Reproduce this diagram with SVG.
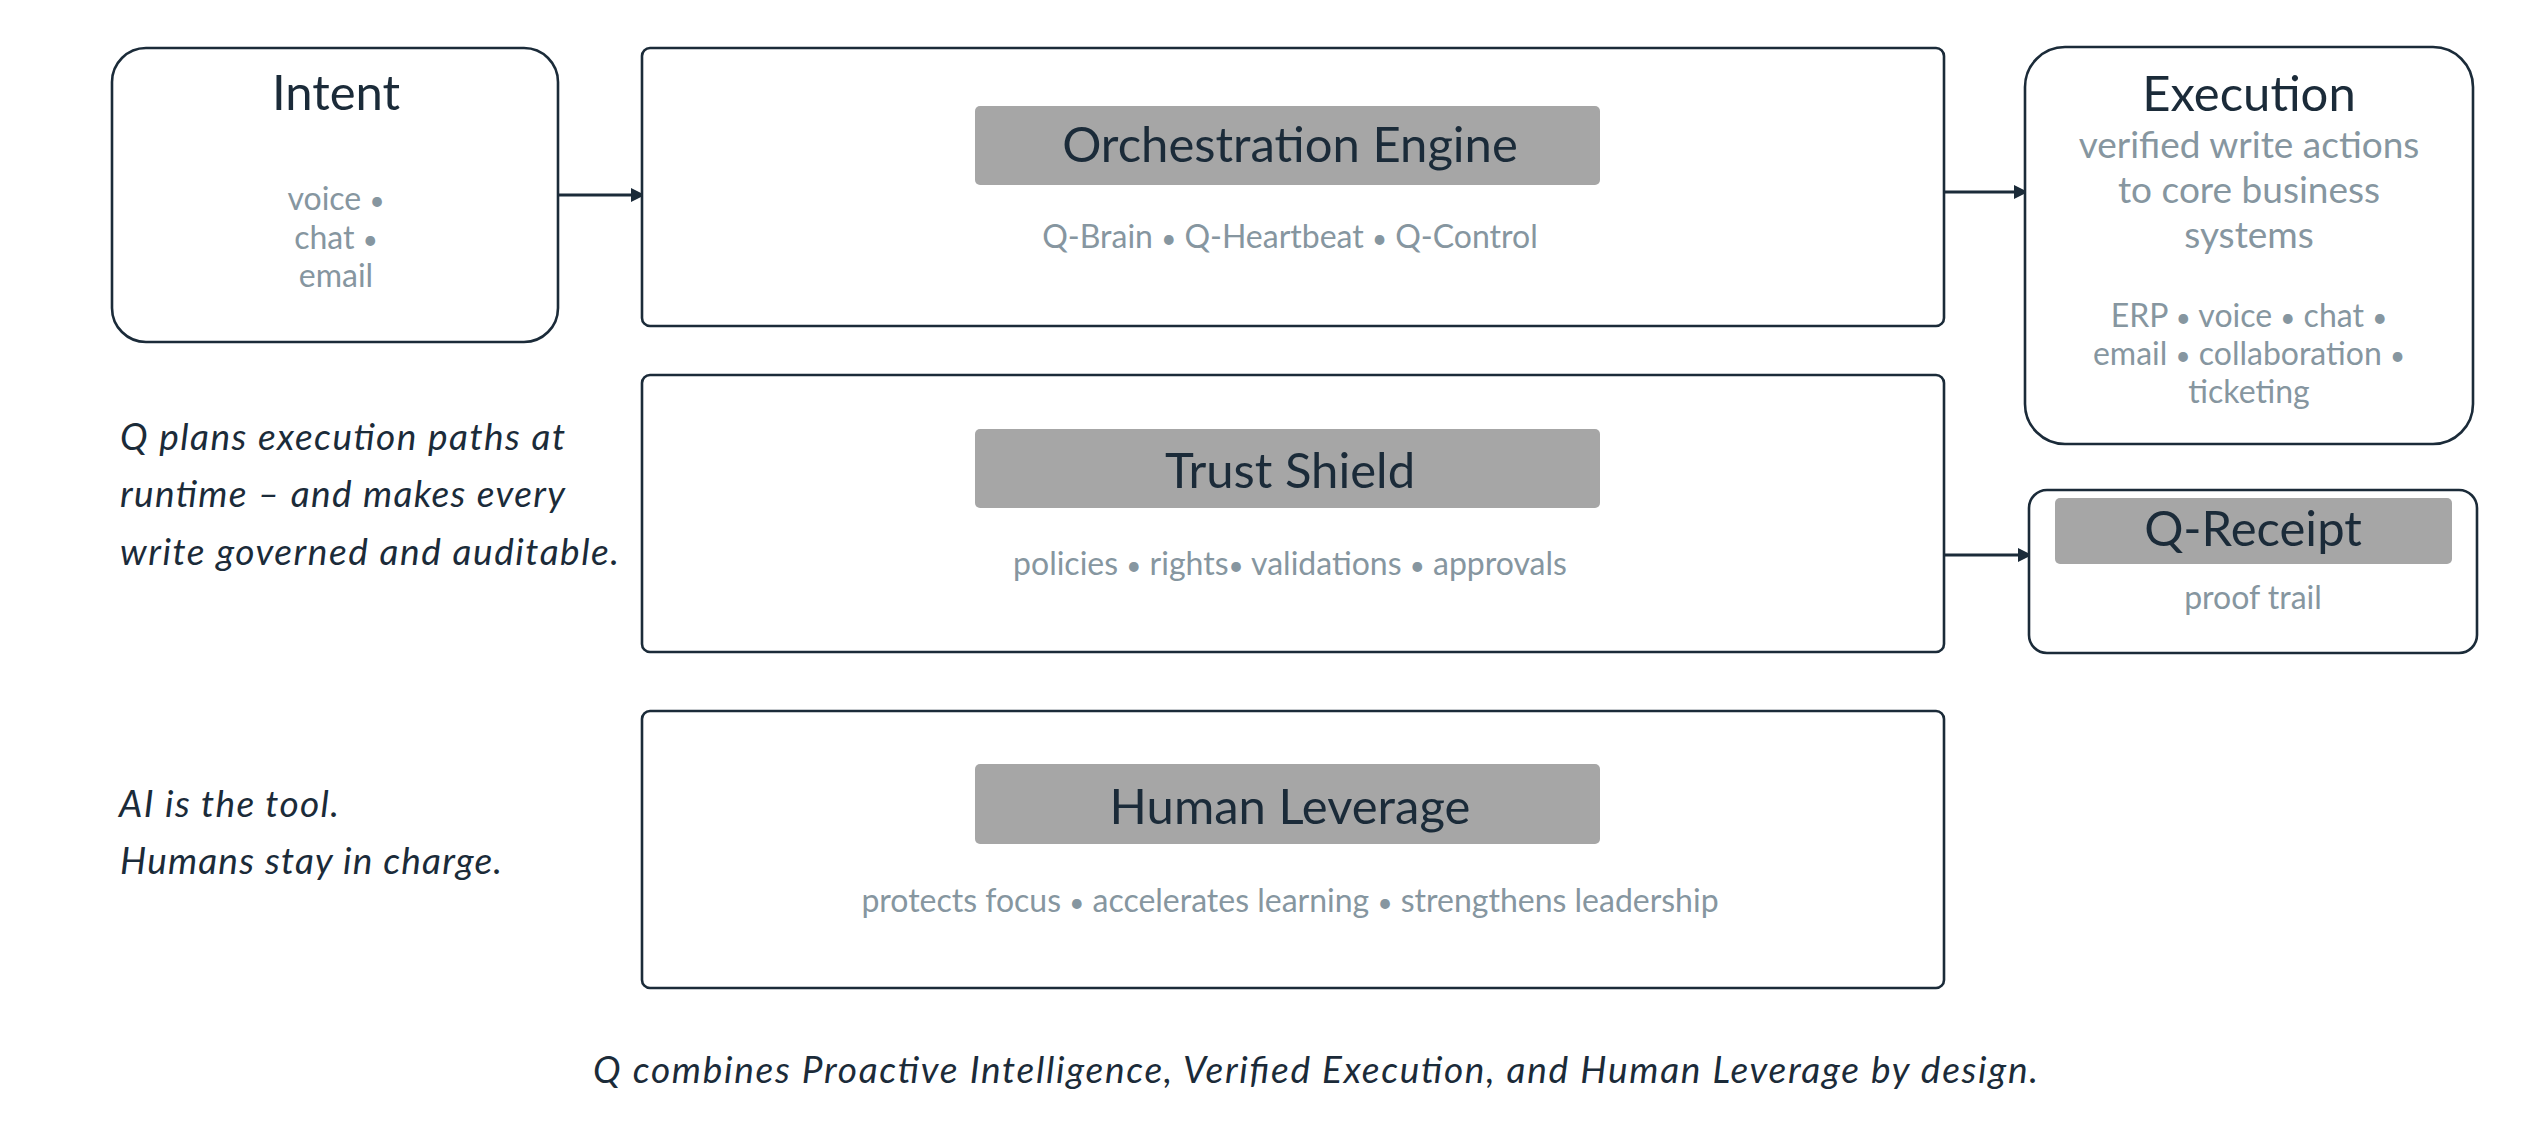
<svg xmlns="http://www.w3.org/2000/svg" width="2538" height="1129" viewBox="0 0 2538 1129">
<defs>
<style>
.box{fill:#ffffff;stroke:#1b2b39;stroke-width:2.6}
.hdr{fill:#a6a6a6}
.title{font-family:Lato,"Noto Sans",sans-serif;font-size:49px;fill:#1b2b39;text-anchor:middle}
.sub{font-family:Lato,"Noto Sans",sans-serif;font-size:32px;fill:#8696a0;text-anchor:middle}
.sub2{font-family:Lato,"Noto Sans",sans-serif;font-size:37px;fill:#8696a0;text-anchor:middle}
.b{font-size:26px}
.note{font-family:Lato,"Noto Sans",sans-serif;font-size:37px;font-style:italic;fill:#1b2b39}
.conn{stroke:#1b2b39;stroke-width:3;fill:none}
</style>
<marker id="arr" markerUnits="userSpaceOnUse" markerWidth="16" markerHeight="16" refX="14" refY="7" orient="auto">
<path d="M0,0 L14,7 L0,14 z" fill="#1b2b39"/>
</marker>
</defs>
<rect width="2538" height="1129" fill="#ffffff"/>

<g id="connectors">
<line class="conn" x1="559" y1="195" x2="645" y2="195" marker-end="url(#arr)"/>
<line class="conn" x1="1944" y1="192" x2="2028" y2="192" marker-end="url(#arr)"/>
<line class="conn" x1="1944" y1="555" x2="2032" y2="555" marker-end="url(#arr)"/>
</g>

<g id="intent">
<rect class="box" x="112" y="48" width="446" height="294" rx="34"/>
<text class="title" x="336" y="110">Intent</text>
<text class="sub" x="336" y="210">voice <tspan class="b">•</tspan></text>
<text class="sub" x="336" y="249">chat <tspan class="b">•</tspan></text>
<text class="sub" x="336" y="287">email</text>
</g>

<g id="orchestration">
<rect class="box" x="642" y="48" width="1302" height="278" rx="8"/>
<rect class="hdr" x="975" y="106" width="625" height="79" rx="5"/>
<text class="title" x="1290" y="162">Orchestration Engine</text>
<text class="sub" x="1290" y="248">Q-Brain <tspan class="b">•</tspan> Q-Heartbeat <tspan class="b">•</tspan> Q-Control</text>
</g>

<g id="trust">
<rect class="box" x="642" y="375" width="1302" height="277" rx="8"/>
<rect class="hdr" x="975" y="429" width="625" height="79" rx="5"/>
<text class="title" x="1290" y="488">Trust Shield</text>
<text class="sub" x="1290" y="575">policies <tspan class="b">•</tspan> rights<tspan class="b">•</tspan> validations <tspan class="b">•</tspan> approvals</text>
</g>

<g id="human">
<rect class="box" x="642" y="711" width="1302" height="277" rx="8"/>
<rect class="hdr" x="975" y="764" width="625" height="80" rx="5"/>
<text class="title" x="1290" y="824">Human Leverage</text>
<text class="sub" x="1290" y="912">protects focus <tspan class="b">•</tspan> accelerates learning <tspan class="b">•</tspan> strengthens leadership</text>
</g>

<g id="execution">
<rect class="box" x="2025" y="47" width="448" height="397" rx="40"/>
<text class="title" x="2249" y="111">Execution</text>
<text class="sub2" x="2249" y="158">verified write actions</text>
<text class="sub2" x="2249" y="203">to core business</text>
<text class="sub2" x="2249" y="248">systems</text>
<text class="sub" x="2249" y="327">ERP <tspan class="b">•</tspan> voice <tspan class="b">•</tspan> chat <tspan class="b">•</tspan></text>
<text class="sub" x="2249" y="365">email <tspan class="b">•</tspan> collaboration <tspan class="b">•</tspan></text>
<text class="sub" x="2249" y="403">ticketing</text>
</g>

<g id="qreceipt">
<rect class="box" x="2029" y="490" width="448" height="163" rx="18"/>
<rect class="hdr" x="2055" y="498" width="397" height="66" rx="5"/>
<text class="title" x="2253" y="546">Q-Receipt</text>
<text class="sub" x="2253" y="609">proof trail</text>
</g>

<g id="notes">
<text class="note" x="120" y="450" textLength="445" lengthAdjust="spacing">Q plans execution paths at</text>
<text class="note" x="120" y="507" textLength="445" lengthAdjust="spacing">runtime – and makes every</text>
<text class="note" x="120" y="565" textLength="499" lengthAdjust="spacing">write governed and auditable.</text>
<text class="note" x="119" y="817" textLength="220" lengthAdjust="spacing">AI is the tool.</text>
<text class="note" x="120" y="874" textLength="382" lengthAdjust="spacing">Humans stay in charge.</text>
<text class="note" x="593" y="1083" textLength="1445" lengthAdjust="spacing">Q combines Proactive Intelligence, Verified Execution, and Human Leverage by design.</text>
</g>
</svg>
